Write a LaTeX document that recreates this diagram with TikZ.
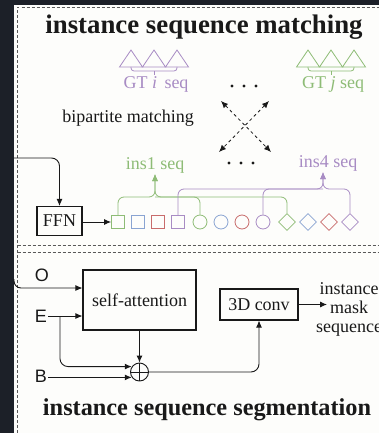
\documentclass[tikz,border=0pt]{standalone}
\usepackage{fontspec}
\setmainfont{Liberation Serif}
\setsansfont{Liberation Sans}
\usetikzlibrary{arrows.meta, shapes, shapes.geometric}
\definecolor{dunkel}{RGB}{28,32,40}
\definecolor{papier}{RGB}{253,253,251}
\definecolor{tinte}{RGB}{25,25,25}
\definecolor{gruen}{RGB}{142,188,118}
\definecolor{lila}{RGB}{168,140,196}
\definecolor{blau}{RGB}{138,164,210}
\definecolor{rot}{RGB}{200,108,108}
\begin{document}
\begin{tikzpicture}[x=1pt, y=-1pt,
			>={Latex[length=7pt,width=6pt]},   %Pfeilspitzen
			font=\fontsize{18}{19}\selectfont,
			kasten/.style={draw=tinte, line width=1.1pt, inner sep=0pt, text=tinte},
			titel/.style={font=\fontsize{26.8}{28}\selectfont\bfseries, text=tinte},
			rahmen/.style={draw=black!65, line width=0.9pt, dash pattern=on 3pt off 2pt},
			quadrat/.style={draw, line width=0.8pt, minimum size=13pt, inner sep=0pt},
			kreis/.style={draw, circle, line width=0.8pt, minimum size=14pt, inner sep=0pt},
			raute/.style={draw, diamond, line width=0.8pt, minimum size=17pt, inner sep=0pt},
			pfeil/.style={->, line width=0.9pt, draw=tinte},
			buchstabe/.style={font=\fontsize{18}{19}\selectfont\sffamily, text=tinte, inner sep=1pt}]
			% Hintergrund
			\useasboundingbox (0,0) rectangle (379,433);
			\fill[dunkel] (0,0) rectangle (379,433);
			\fill[papier] (14,5) rectangle (379,433);
			% Rahmen und Trennlinien
			\draw[rahmen] (17.5,433) -- (17.5,7) -- (379,7);
			\draw[rahmen] (17.5,245) -- (379,245);
			\draw[rahmen] (17.5,252) -- (379,252);
			% Titel
			\node[titel] (titeloben) at (204,27) {instance sequence matching};
			\node[titel, font=\fontsize{24.3}{26}\selectfont\bfseries] (titelunten) at (207,410) {instance sequence segmentation};
			% GT Sequenzen
			\foreach \i in {1,2,3} {
				\coordinate (pt\i) at ({108+23*\i},67);
				\coordinate (gt\i) at ({285+23*\i},67);
				\draw[lila, line width=0.8pt] (pt\i) ++(-11.5,0) -- ++(11.5,-17) -- ++(11.5,17) -- cycle;
				\draw[gruen, line width=0.8pt] (gt\i) ++(-11.5,0) -- ++(11.5,-17) -- ++(11.5,17) -- cycle;
			}
			\node[text=lila, inner sep=1pt] (gti) at (156,84) {GT \textit{i}\, seq};
			\node[text=gruen, inner sep=1pt] (gtj) at (333,84) {GT \textit{j} seq};
			\draw[lila, line width=0.8pt, rounded corners=3] (pt1) |- (pt2 |- 0,71) -| (pt3);
			\draw[lila, line width=0.8pt] (pt2 |- 0,71) -- (gti.north -| pt2);
			\draw[gruen, line width=0.8pt, rounded corners=3] (gt1) |- (gt2 |- 0,71) -| (gt3);
			\draw[gruen, line width=0.8pt] (gt2 |- 0,71) -- (gtj.north -| gt2);
			% Punkte
			\foreach \i in {0,1,2} {
				\fill[tinte] ({232+12*\i},86) circle (1.6);
				\fill[tinte] ({229+12*\i},163) circle (1.6);
			}
			% Zuordnung
			\node[text=tinte] (bipartit) at (128,118) {bipartite matching};
			\coordinate (xlo) at (221,101);
			\coordinate (xru) at (271,152);
			\coordinate (xro) at (269,101);
			\coordinate (xlu) at (219,152);
			\draw[<->, tinte, line width=0.8pt, dashed] (xlo) -- (xru);
			\draw[<->, tinte, line width=0.8pt, dashed] (xro) -- (xlu);
			% Instanzsequenzen
			\node[text=gruen, inner sep=1pt] (ins1) at (155,165) {ins1 seq};
			\node[text=lila, inner sep=1pt] (ins4) at (328,163) {ins4 seq};
			\node[kasten, minimum width=45pt, minimum height=29pt] (ffn) at (59.5,221) {FFN};
			\foreach \farbe [count=\i] in {gruen,blau,rot,lila} {
				\node[quadrat, draw=\farbe] (s\i) at ({98+20*\i},222) {};
				\node[kreis, draw=\farbe] (k\i) at ({179+21*\i},222) {};
				\node[raute, draw=\farbe] (r\i) at ({266+21*\i},222) {};
			}
			\coordinate (ffnein) at (14,158);
			\draw[pfeil, rounded corners=8] (ffnein) -| (ffn.north);
			\draw[pfeil] (ffn.east |- s1.west) -- (s1.west);
			% Klammern
			\draw[gruen, line width=0.8pt, rounded corners=6] (k1.north) |- (155,197);
			\draw[gruen, ->, line width=0.8pt, rounded corners=6] (r1.north) |- (155,197) -- (ins1.south);
			\draw[gruen, ->, line width=0.8pt, rounded corners=6] (s1.north) |- (155,197) -- (ins1.south);
			\draw[lila, line width=0.8pt, rounded corners=6] (k4.north) |- (323,189);
			\draw[lila, ->, line width=0.8pt, rounded corners=6] (s4.north) |- (323,189) -- (ins4.south -| 323,0);
			\draw[lila, ->, line width=0.8pt, rounded corners=6] (r4.north) |- (323,189) -- (ins4.south -| 323,0);
			% Segmentierung
			\node[buchstabe] (O) at (42,275) {O};
			\node[buchstabe] (E) at (41,316) {E};
			\node[buchstabe] (B) at (41,376) {B};
			\node[kasten, minimum width=113pt, minimum height=60pt] (sa) at (139.5,300) {self-attention};
			\node[kasten, minimum width=78pt, minimum height=31pt] (conv) at (259,304.5) {3D conv};
			\node[draw=tinte, circle, line width=0.9pt, minimum size=18pt, inner sep=0pt] (plus) at (139.5,372) {};
			\draw[tinte, line width=0.8pt] (plus.north) -- (plus.south) (plus.west) -- (plus.east);
			\node[text=tinte, align=center, inner sep=0pt] (ausgabe) at (349,309) {instance\\mask\\sequence};
			\coordinate (oein) at (14,279);
			\coordinate (abzweig) at (60,316);
			\coordinate (maskein) at (327,304.5);
			\draw[pfeil, rounded corners=7] (oein) |- (sa.west |- 0,288);
			\draw[pfeil] (E.east) -- (sa.west |- E);
			\draw[pfeil, rounded corners=8] (abzweig) |- (plus.145);
			\draw[pfeil] (B.east |- plus.215) -- (plus.215);
			\draw[pfeil] (sa.south) -- (plus.north);
			\draw[pfeil, rounded corners=8] (plus.east) -| (conv.south);
			\draw[pfeil] (conv.east) -- (maskein);
		\end{tikzpicture}
\end{document}
